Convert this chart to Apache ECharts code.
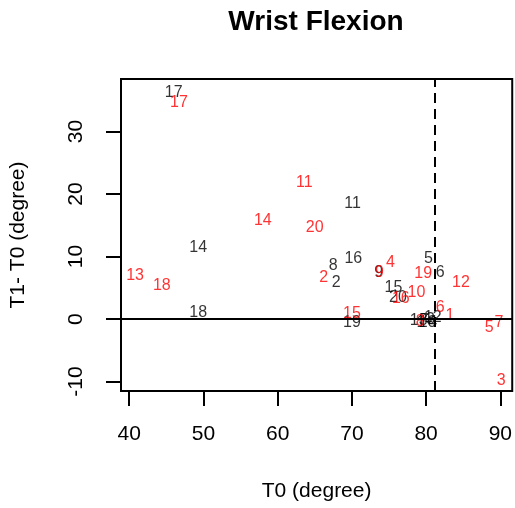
<!DOCTYPE html>
<html>
<head>
<meta charset="utf-8">
<script src="https://cdn.jsdelivr.net/npm/echarts@6/dist/echarts.min.js"></script>
<style>
  html, body { margin: 0; padding: 0; background: #fff; }
  #chart { width: 515px; height: 508px; }
</style>
</head>
<body>
<div id="chart"></div>
<script>
// subject ids with T0 and T1-T0 values, black group
const blackIds = ['1', '2', '3', '4', '5', '6', '7', '8', '9', '10', '11', '12', '13', '14', '15', '16', '17', '18', '19', '20']
const blackT0 = [79.3, 67.9, 80.6, 80.9, 80.3, 81.9, 79.7, 67.5, 73.6, 80.2, 70.1, 80.9, 79.0, 49.3, 75.6, 70.2, 46.0, 49.3, 70.0, 76.2]
const blackDiff = [-0.5, 5.8, 0.0, -0.5, 9.6, 7.5, -0.2, 8.6, 7.5, -0.6, 18.4, 0.2, -0.3, 11.5, 5.0, 9.6, 36.3, 1.0, -0.5, 3.4]

// red group
const redIds = ['1', '2', '3', '4', '5', '6', '7', '8', '9', '10', '11', '12', '13', '14', '15', '16', '17', '18', '19', '20']
const redT0 = [83.2, 66.2, 90.1, 75.2, 88.5, 81.9, 89.8, 79.2, 73.7, 78.7, 63.6, 84.7, 40.8, 58.0, 70.0, 76.6, 46.7, 44.4, 79.6, 65.0]
const redDiff = [0.6, 6.7, -9.8, 9.0, -1.3, 1.9, -0.6, -0.4, 7.4, 4.3, 21.9, 5.8, 6.9, 15.7, 0.9, 3.2, 34.7, 5.4, 7.2, 14.6]

const xTicks = [40, 50, 60, 70, 80, 90]
const yTicks = [-10, 0, 10, 20, 30]
const cutoff = 81.1

const font = 'Liberation Sans, Arial, sans-serif'

function toPoints(ids, xs, ys) {
  return ids.map((id, i) => ({ name: id, value: [xs[i], ys[i]] }))
}

function labelSeries(ids, xs, ys, color) {
  return {
    type: 'scatter',
    symbol: 'circle',
    symbolSize: 1,
    itemStyle: { color: 'rgba(0,0,0,0)' },
    label: {
      show: true,
      position: 'inside',
      formatter: '{b}',
      color: color,
      fontFamily: font,
      fontSize: 16
    },
    emphasis: { disabled: true },
    data: toPoints(ids, xs, ys)
  }
}

const chart = echarts.init(document.getElementById('chart'), null, { renderer: 'canvas' })

const axisText = { color: '#000', fontFamily: font, fontSize: 21 }

chart.setOption({
  animation: false,
  graphic: [{
    type: 'text',
    x: 316,
    y: 22,
    style: {
      text: 'Wrist Flexion',
      fill: '#000',
      font: 'bold 28px ' + font,
      textAlign: 'center',
      textVerticalAlign: 'middle'
    }
  }],
  grid: {
    left: 120,
    right: 2,
    top: 79,
    bottom: 117,
    show: true,
    borderColor: '#000',
    borderWidth: 2,
    backgroundColor: 'transparent'
  },
  xAxis: {
    type: 'value',
    min: 38.9,
    max: 91.6,
    name: 'T0 (degree)',
    nameLocation: 'middle',
    nameGap: 90,
    nameTextStyle: axisText,
    axisLine: { show: false, onZero: false },
    splitLine: { show: false },
    axisTick: {
      show: true,
      length: 15,
      customValues: xTicks,
      lineStyle: { color: '#000', width: 2 }
    },
    axisLabel: {
      customValues: xTicks,
      margin: 33,
      ...axisText
    }
  },
  yAxis: {
    type: 'value',
    min: -11.5,
    max: 38.4,
    name: 'T1- T0 (degree)',
    nameLocation: 'middle',
    nameGap: 92,
    nameRotate: 90,
    nameTextStyle: axisText,
    axisLine: { show: false, onZero: false },
    splitLine: { show: false },
    axisTick: {
      show: true,
      length: 15,
      customValues: yTicks,
      lineStyle: { color: '#000', width: 2 }
    },
    axisLabel: {
      customValues: yTicks,
      rotate: 90,
      margin: 34,
      ...axisText
    }
  },
  series: [
    Object.assign(labelSeries(blackIds, blackT0, blackDiff, '#000'), {
      markLine: {
        silent: true,
        symbol: ['none', 'none'],
        label: { show: false },
        data: [
          { yAxis: 0, lineStyle: { color: '#000', width: 2, type: 'solid' } },
          { xAxis: cutoff, lineStyle: { color: '#000', width: 2, type: [10, 6] } }
        ]
      }
    }),
    labelSeries(redIds, redT0, redDiff, '#ff0000')
  ]
})
</script>
</body>
</html>
